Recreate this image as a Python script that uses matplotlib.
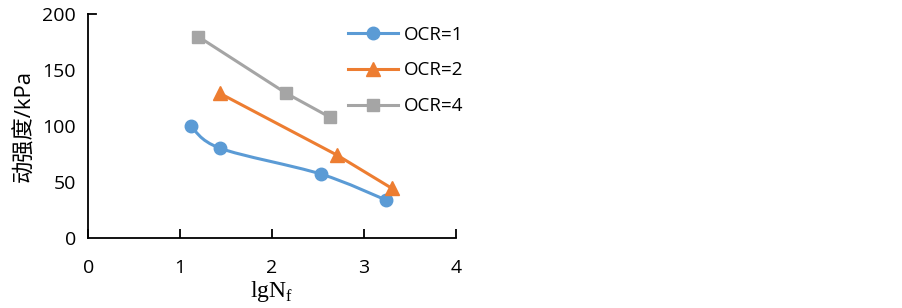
import matplotlib
matplotlib.use("Agg")
import matplotlib.pyplot as plt
from matplotlib.path import Path
from matplotlib.patches import PathPatch
from matplotlib.lines import Line2D
import numpy as np

x_ocr1 = [1.115, 1.435, 2.53, 3.24]
y_ocr1 = [100.3, 80.4, 57.4, 34.2]
x_ocr2 = [1.43, 2.705, 3.305]
y_ocr2 = [129.5, 74.4, 44.6]
x_ocr4 = [1.198, 2.154, 2.633]
y_ocr4 = [180.0, 129.5, 108.0]
labels = ["OCR=1", "OCR=2", "OCR=4"]
xticks = [0, 1, 2, 3, 4]
yticks = [0, 50, 100, 150, 200]

c1, c2, c3 = "#5B9BD5", "#ED7D31", "#A5A5A5"

plt.rcParams['font.family'] = ['Open Sans', 'Noto Sans CJK SC', 'DejaVu Sans']

fig = plt.figure(figsize=(9.03, 3.08), dpi=100)
ax = fig.add_axes([0.0978, 0.2263, 0.4069, 0.7273])


def smooth_path(xs, ys, t=1/6):
    xs = np.asarray(xs, float); ys = np.asarray(ys, float)
    verts = [(xs[0], ys[0])]
    codes = [Path.MOVETO]
    n = len(xs)
    for i in range(n - 1):
        x0, y0 = (xs[i-1], ys[i-1]) if i > 0 else (xs[i], ys[i])
        x3, y3 = (xs[i+2], ys[i+2]) if i + 2 < n else (xs[i+1], ys[i+1])
        c1p = (xs[i] + (xs[i+1] - x0) * t, ys[i] + (ys[i+1] - y0) * t)
        c2p = (xs[i+1] - (x3 - xs[i]) * t, ys[i+1] - (y3 - ys[i]) * t)
        verts += [c1p, c2p, (xs[i+1], ys[i+1])]
        codes += [Path.CURVE4] * 3
    return Path(verts, codes)


ax.add_patch(PathPatch(smooth_path(x_ocr1, y_ocr1), fill=False, edgecolor=c1, lw=2.2, zorder=2))
ax.plot(x_ocr1, y_ocr1, ls='none', marker='o', ms=9, color=c1, zorder=3)
ax.plot(x_ocr2, y_ocr2, color=c2, lw=2.2, marker='^', ms=9.5, zorder=3)
ax.plot(x_ocr4, y_ocr4, color=c3, lw=2.2, marker='s', ms=9, zorder=3)

handles = [Line2D([], [], color=c1, lw=2.2, marker='o', ms=9),
           Line2D([], [], color=c2, lw=2.2, marker='^', ms=9.5),
           Line2D([], [], color=c3, lw=2.2, marker='s', ms=9)]
leg = ax.legend(handles, labels, loc='upper left', bbox_to_anchor=(0.675, 1.0),
                frameon=False, fontsize=13.5, handlelength=2.7, handletextpad=0.3,
                labelspacing=0.95, borderaxespad=0.2)

ax.set_xlim(0, 4)
ax.set_ylim(0, 200)
ax.set_xticks(xticks)
ax.set_yticks(yticks)
ax.spines['top'].set_visible(False)
ax.spines['right'].set_visible(False)
for s in ['left', 'bottom']:
    ax.spines[s].set_linewidth(1.3)
ax.tick_params(axis='x', direction='in', length=6.5, width=1.3, labelsize=14, pad=15)
ax.tick_params(axis='y', length=0, labelsize=14, pad=9)
ax.axhline(200, xmin=0, xmax=0.022, color='black', lw=1.3, clip_on=False)

ax.set_xlabel(r'lgN$_\mathregular{f}$', family='Liberation Serif', fontsize=17, labelpad=1)
ax.set_ylabel('动强度/kPa', fontsize=16, labelpad=5)

fig.savefig('out.png', dpi=100)
